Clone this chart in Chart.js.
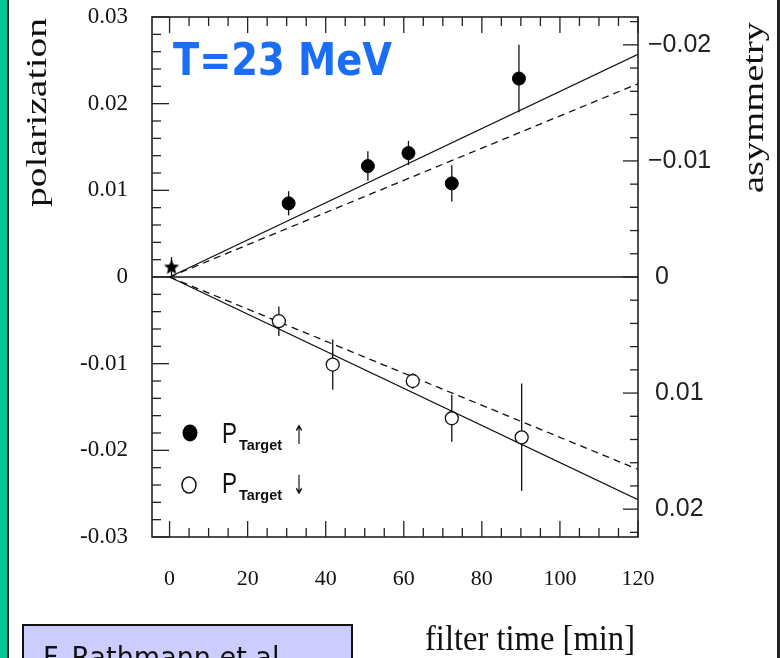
<!DOCTYPE html>
<html>
<head>
<meta charset="utf-8">
<script src="https://cdn.jsdelivr.net/npm/chart.js@4.4.1/dist/chart.umd.min.js"></script>
<style>
  html, body { margin: 0; padding: 0; background: #fff; }
  #wrap { width: 780px; height: 658px; position: relative; }
</style>
</head>
<body>
<div id="wrap"><canvas id="chart"></canvas></div>
<script>
// Tick labels
const timeTicks = [0, 20, 40, 60, 80, 100, 120];
const polTicks = [-0.03, -0.02, -0.01, 0, 0.01, 0.02, 0.03];
const asymTicks = [-0.02, -0.01, 0, 0.01, 0.02];

// P_Target up (filled circles)
const upTime = [30.5, 50.8, 61.2, 72.3, 89.5];
const upPol = [0.0085, 0.0128, 0.0143, 0.0108, 0.0229];
const upErr = [0.0014, 0.0017, 0.0014, 0.0021, 0.0039];

// P_Target down (open circles)
const downTime = [28.0, 41.8, 62.3, 72.3, 90.2];
const downPol = [-0.0051, -0.0101, -0.0120, -0.0163, -0.0185];
const downErr = [0.0017, 0.0029, 0.0009, 0.0027, 0.0062];

// Start value (star)
const startTime = [0.5];
const startPol = [0.0011];
const startErr = [0.0012];

// Fit lines
const fitTime = [0, 120];
const fitSolidUp = [0, 0.0257];
const fitDashUp = [0, 0.0223];
const fitSolidDown = [0, -0.0257];
const fitDashDown = [0, -0.0222];
const zeroTime = [-4.5, 120];
const zeroPol = [0, 0];

const INK = '#111';

function pts(xs, ys) {
    return xs.map((x, i) => ({ x: x, y: ys[i] }));
}

// Filled five-point star used as point style
function makeStar(r) {
    const c = document.createElement('canvas');
    c.width = c.height = 2 * r + 2;
    const g = c.getContext('2d');
    g.beginPath();
    for (let i = 0; i < 10; i++) {
        const rad = i % 2 ? r * 0.45 : r;
        const ang = -Math.PI / 2 + i * Math.PI / 5;
        g.lineTo(r + 1 + rad * Math.cos(ang), r + 1 + rad * Math.sin(ang));
    }
    g.closePath();
    g.fillStyle = '#000';
    g.fill();
    return c;
}

// Draw text stretched to a given length (slide image is stretched)
function fitText(ctx, text, x, y, font, width, sy, rot) {
    ctx.save();
    ctx.translate(x, y);
    if (rot) ctx.rotate(rot);
    ctx.font = font;
    ctx.textAlign = 'left';
    ctx.textBaseline = 'alphabetic';
    const w = ctx.measureText(text).width;
    ctx.scale(width / w, sy);
    ctx.fillText(text, 0, 0);
    ctx.restore();
}

function line(ctx, x1, y1, x2, y2) {
    ctx.beginPath();
    ctx.moveTo(x1, y1);
    ctx.lineTo(x2, y2);
    ctx.stroke();
}

// no automatic label overflow padding: the plot box is fixed
function noPad(s) {
    s.paddingTop = 0;
    s.paddingBottom = 0;
    s.paddingLeft = 0;
    s.paddingRight = 0;
}

const decorPlugin = {
    id: 'decor',
    beforeDatasetsDraw(chart) {
        // error bars
        const { ctx, scales } = chart;
        ctx.save();
        ctx.strokeStyle = INK;
        ctx.lineWidth = 1.3;
        chart.data.datasets.forEach(ds => {
            if (!ds.errors) return;
            ds.data.forEach((p, i) => {
                const px = scales.x.getPixelForValue(p.x);
                line(ctx, px, scales.y.getPixelForValue(p.y + ds.errors[i]),
                     px, scales.y.getPixelForValue(p.y - ds.errors[i]));
            });
        });
        ctx.restore();
    },
    afterDraw(chart) {
        const { ctx, chartArea: a, scales } = chart;
        const sx = scales.x, sy = scales.y, sy2 = scales.y2;
        ctx.save();

        // slide border
        ctx.fillStyle = '#00c795';
        ctx.fillRect(0, 0, 7, 658);
        ctx.fillStyle = '#222';
        ctx.fillRect(7, 0, 2, 658);
        ctx.fillRect(777, 0, 3, 658);

        // plot frame
        ctx.strokeStyle = '#222';
        ctx.lineWidth = 1.6;
        ctx.strokeRect(a.left, a.top, a.right - a.left, a.bottom - a.top);

        // inward ticks
        ctx.lineWidth = 1.3;
        for (let k = 0; k <= 24; k++) {
            const v = k * 5;
            const px = sx.getPixelForValue(v);
            const len = v % 20 === 0 ? 16 : 9;
            line(ctx, px, a.bottom, px, a.bottom - len);
            line(ctx, px, a.top, px, a.top + len);
        }
        for (let k = -15; k <= 15; k++) {
            const py = sy.getPixelForValue(k * 0.002);
            const len = k % 5 === 0 ? 17 : 9;
            line(ctx, a.left, py, a.left + len, py);
        }
        for (let k = -11; k <= 11; k++) {
            const py = sy2.getPixelForValue(k * 0.002);
            const len = k % 5 === 0 ? 15 : 8;
            line(ctx, a.right, py, a.right - len, py);
        }

        // axis titles
        ctx.fillStyle = INK;
        fitText(ctx, 'polarization', 46, 207, '30px "Liberation Serif"', 189, 1, -Math.PI / 2);
        fitText(ctx, 'asymmetry', 763, 193, '30px "Liberation Serif"', 171, 1, -Math.PI / 2);
        fitText(ctx, 'filter time [min]', 425, 650, '30px "Liberation Serif"', 210, 1.2);

        // energy label
        ctx.fillStyle = '#1a6ef5';
        fitText(ctx, 'T=23 MeV', 173, 75, 'bold 34px "DejaVu Sans"', 219, 1.3);

        // legend
        ctx.fillStyle = '#000';
        ctx.beginPath();
        ctx.ellipse(190, 433, 7.5, 8.5, 0, 0, Math.PI * 2);
        ctx.fill();
        ctx.strokeStyle = INK;
        ctx.lineWidth = 1.5;
        ctx.beginPath();
        ctx.ellipse(189, 485, 7, 8, 0, 0, Math.PI * 2);
        ctx.stroke();
        ctx.fillStyle = INK;
        [[443, 450, '\u2191'], [493, 500, '\u2193']].forEach(r => {
            fitText(ctx, 'P', 222, r[0], '24px "Liberation Sans"', 15, 1.2);
            fitText(ctx, 'Target', 239, r[1], 'bold 14px "Liberation Sans"', 43, 1.1);
            fitText(ctx, r[2], 293, r[0] + 1, '22px "DejaVu Sans"', 12, 1.2);
        });

        // reference box
        ctx.fillStyle = '#ccccff';
        ctx.fillRect(23, 625, 329, 40);
        ctx.strokeStyle = '#111';
        ctx.lineWidth = 2;
        ctx.strokeRect(23, 625, 329, 40);
        ctx.fillStyle = INK;
        fitText(ctx, 'F. Rathmann et al.', 43, 667, '24px "DejaVu Sans"', 245, 1.2);

        ctx.restore();
    }
};

const lineStyle = {
    type: 'line',
    showLine: true,
    pointRadius: 0,
    borderColor: INK,
    borderWidth: 1.3,
    fill: false
};

new Chart(document.getElementById('chart'), {
    type: 'scatter',
    data: {
        datasets: [
            {
                label: 'start',
                data: pts(startTime, startPol),
                errors: startErr,
                pointStyle: makeStar(8),
                pointRadius: 8
            },
            {
                label: 'P_Target up',
                data: pts(upTime, upPol),
                errors: upErr,
                pointStyle: 'circle',
                pointRadius: 6.5,
                backgroundColor: '#000',
                borderColor: '#000',
                borderWidth: 1
            },
            {
                label: 'P_Target down',
                data: pts(downTime, downPol),
                errors: downErr,
                pointStyle: 'circle',
                pointRadius: 6.5,
                backgroundColor: '#fff',
                borderColor: INK,
                borderWidth: 1.3
            },
            Object.assign({ label: 'fit up', data: pts(fitTime, fitSolidUp) }, lineStyle),
            Object.assign({ label: 'fit up dashed', data: pts(fitTime, fitDashUp), borderDash: [7, 5] }, lineStyle),
            Object.assign({ label: 'fit down', data: pts(fitTime, fitSolidDown) }, lineStyle),
            Object.assign({ label: 'fit down dashed', data: pts(fitTime, fitDashDown), borderDash: [7, 5] }, lineStyle),
            Object.assign({ label: 'zero', data: pts(zeroTime, zeroPol) }, lineStyle)
        ]
    },
    options: {
        responsive: true,
        maintainAspectRatio: false,
        animation: false,
        devicePixelRatio: 1,
        layout: { padding: { top: 17, left: 0, right: 0, bottom: 0 } },
        plugins: {
            legend: { display: false },
            tooltip: { enabled: false }
        },
        scales: {
            x: {
                type: 'linear',
                position: 'bottom',
                min: -4.5,
                max: 120,
                afterBuildTicks: s => { s.ticks = timeTicks.map(v => ({ value: v })); },
                afterFit: s => { s.height = 121; noPad(s); },
                grid: { display: false, drawTicks: false },
                border: { display: false },
                ticks: {
                    color: INK,
                    padding: 29,
                    maxRotation: 0,
                    font: { family: '"Liberation Serif"', size: 22 }
                }
            },
            y: {
                type: 'linear',
                position: 'left',
                min: -0.03,
                max: 0.03,
                afterBuildTicks: s => { s.ticks = polTicks.map(v => ({ value: v })); },
                afterFit: s => { s.width = 152; noPad(s); },
                grid: { display: false, drawTicks: false },
                border: { display: false },
                ticks: {
                    color: INK,
                    padding: 24,
                    font: { family: '"Liberation Serif"', size: 23 },
                    callback: v => (Math.abs(v) < 1e-9 ? '0' : v.toFixed(2))
                }
            },
            y2: {
                type: 'linear',
                position: 'right',
                display: true,
                reverse: true,
                min: -0.0224,
                max: 0.0224,
                afterBuildTicks: s => { s.ticks = asymTicks.map(v => ({ value: v })); },
                afterFit: s => { s.width = 142; noPad(s); },
                grid: { display: false, drawTicks: false },
                border: { display: false },
                ticks: {
                    color: '#222',
                    padding: 10,
                    font: { family: '"Liberation Sans"', size: 25 },
                    callback: v => {
                        if (Math.abs(v) < 1e-9) return ' 0';
                        return v < 0 ? '\u2212' + (-v).toFixed(2) : ' ' + v.toFixed(2);
                    }
                }
            }
        }
    },
    plugins: [decorPlugin]
});
</script>
</body>
</html>
